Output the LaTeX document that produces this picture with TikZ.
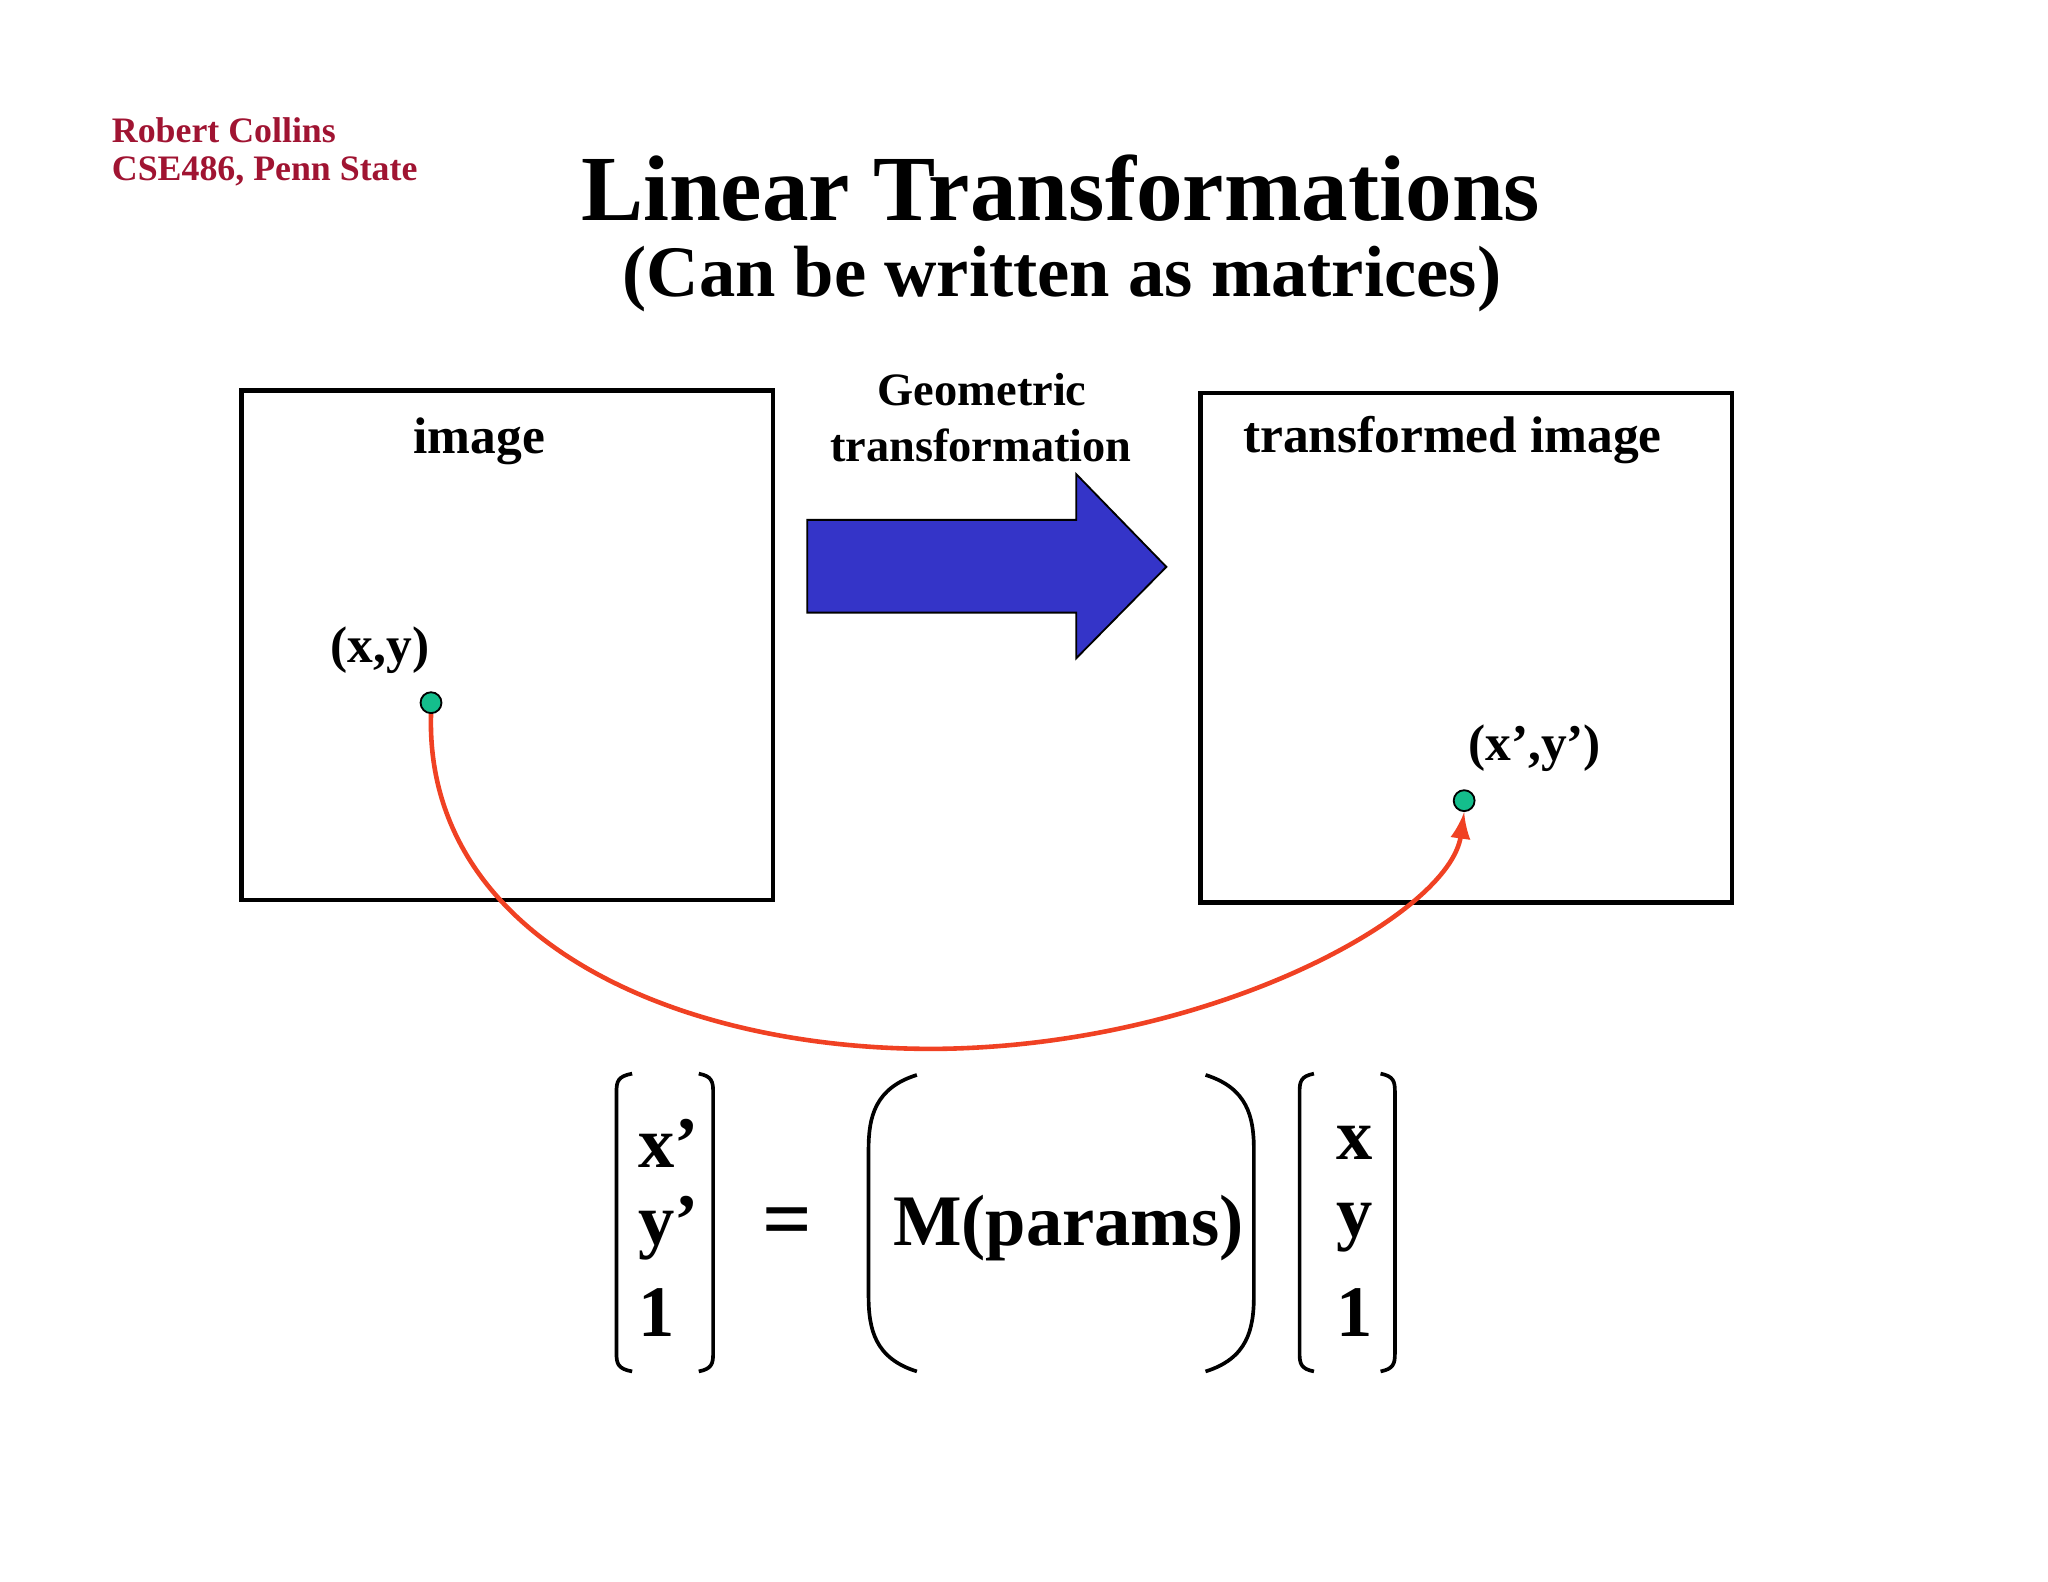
\documentclass[tikz,border=0pt]{standalone}
\usepackage{fontspec}
\setmainfont{Liberation Serif}
\begin{document}
\begin{tikzpicture}[x=0.01cm,y=-0.01cm,
  lbl/.style={font=\fontsize{11.2}{13}\selectfont\bfseries,inner sep=0pt},
  eq/.style={font=\fontsize{15.8}{19}\selectfont\bfseries,inner sep=0pt},
  frame/.style={draw=black,line width=0.95pt},
  brk/.style={draw=black,line width=0.8pt},
  dot/.style={circle,draw=black,line width=0.4pt,minimum size=0.16cm,inner sep=0pt}]
\definecolor{psured}{RGB}{160,20,50}
\definecolor{arrblue}{RGB}{52,52,200}
\definecolor{curvered}{RGB}{240,65,35}
\definecolor{dotgreen}{RGB}{20,190,140}
\useasboundingbox (0,0) rectangle (1568,1211);
\node[anchor=west,inner sep=0pt,text=psured,font=\fontsize{7.8}{9}\selectfont\bfseries] (auth) at (85,100) {Robert Collins};
\node[anchor=west,inner sep=0pt,text=psured,font=\fontsize{7.8}{9}\selectfont\bfseries] (course) at (85,131) {CSE486, Penn State};
\node[inner sep=0pt,font=\fontsize{20.3}{24}\selectfont\bfseries] (title) at (812,144) {Linear Transformations};
\node[inner sep=0pt,font=\fontsize{15.8}{19}\selectfont\bfseries] (sub) at (813,214) {(Can be written as matrices)};
\draw[frame] (185,299) rectangle (592,689);
\draw[frame] (919,301) rectangle (1326,691);
\node[lbl] (img) at (367,338) {image};
\node[lbl,font=\fontsize{10.1}{12}\selectfont\bfseries] (geo) at (752,298) {Geometric};
\node[lbl,font=\fontsize{10.1}{12}\selectfont\bfseries] (tr) at (751,341) {transformation};
\node[lbl] (timg) at (1112,337) {transformed image};
\draw[fill=arrblue,draw=black,line width=0.4pt] (618,398) -- (824,398) -- (824,363) -- (893,434) -- (824,504) -- (824,469) -- (618,469) -- cycle;
\node[lbl] (xy) at (291,498) {(x,y)};
\node[lbl] (xyp) at (1175,573) {(x’,y’)};
\node[dot,fill=dotgreen] (p) at (330,538) {};
\node[dot,fill=dotgreen] (q) at (1121,613) {};
\draw[curvered,line width=1pt,-latex] (p.south) .. controls (325,720) and (520,805) .. (720,803) .. controls (930,800) and (1110,700) .. (q.south);
\draw[brk] (484,822) .. controls (473,824) and (472,828) .. (472,836) -- (472,1036) .. controls (472,1044) and (473,1048) .. (484,1050);
\draw[brk] (535,822) .. controls (545,824) and (546,828) .. (546,836) -- (546,1036) .. controls (546,1044) and (545,1048) .. (535,1050);
\node[eq] (a1) at (512,875) {x’};
\node[eq] (a2) at (512,940) {y’};
\node[eq] (a3) at (503,1005) {1};
\node[eq,font=\fontsize{19}{22}\selectfont\bfseries] (eqs) at (603,940) {=};
\draw[brk] (702,823) .. controls (670,833) and (665,855) .. (665,880) -- (665,992) .. controls (665,1018) and (670,1040) .. (702,1050);
\draw[brk] (923,823) .. controls (955,833) and (960,855) .. (960,880) -- (960,992) .. controls (960,1018) and (955,1040) .. (923,1050);
\node[eq] (m) at (818,940) {M(params)};
\draw[brk] (1006,822) .. controls (996,824) and (995,828) .. (995,836) -- (995,1036) .. controls (995,1044) and (996,1048) .. (1006,1050);
\draw[brk] (1057,822) .. controls (1067,824) and (1068,828) .. (1068,836) -- (1068,1036) .. controls (1068,1044) and (1067,1048) .. (1057,1050);
\node[eq] (b1) at (1037,875) {x};
\node[eq] (b2) at (1037,940) {y};
\node[eq] (b3) at (1037,1005) {1};
\end{tikzpicture}
\end{document}
